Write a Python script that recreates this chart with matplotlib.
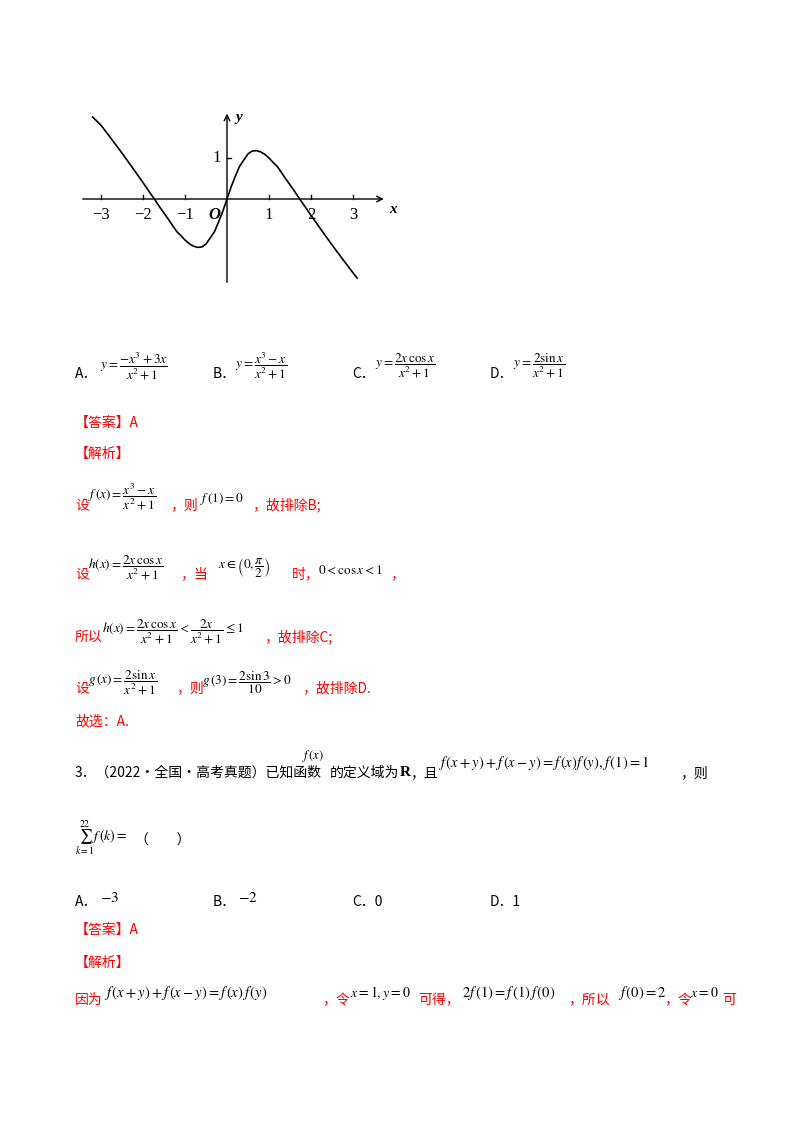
import matplotlib
matplotlib.use("Agg")
import matplotlib.pyplot as plt

plt.rcParams['font.family'] = ['Noto Sans CJK SC', 'DejaVu Sans']
plt.rcParams['mathtext.fontset'] = 'stix'

# curve points
xs = [-3.2, -3.0, -2.8, -2.5, -2.2, -2.0, -1.8, -1.73, -1.6, -1.4, -1.2, -1.1, -1.0, -0.9, -0.8,
      -0.7, -0.6, -0.5, -0.4, -0.3, -0.2, -0.1, 0.0,
      0.1, 0.2, 0.3, 0.4, 0.5, 0.6, 0.7, 0.8, 0.9, 1.0, 1.1, 1.2, 1.4, 1.6, 1.73, 1.8, 2.0,
      2.2, 2.5, 2.8, 3.0, 3.1]
ys = [2.0, 1.8, 1.53, 1.12, 0.69, 0.4, 0.10, 0.0, -0.2, -0.49, -0.79, -0.89, -1.0, -1.09, -1.15,
      -1.18, -1.17, -1.1, -0.95, -0.80, -0.56, -0.30, 0.0,
      0.30, 0.56, 0.80, 0.95, 1.1, 1.17, 1.18, 1.15, 1.09, 1.0, 0.89, 0.79, 0.49, 0.2, 0.0, -0.10, -0.4,
      -0.69, -1.12, -1.53, -1.8, -1.93]
xticks = [-3, -2, -1, 1, 2, 3]
yticks = [1]

W, H = 800, 1132
fig = plt.figure(figsize=(8, 11.32), dpi=100)

x0, x1, y0, y1 = -3.6, 3.8, -2.2, 2.2
left = 227 + x0 * 42
top = 199 - y1 * 41
ax = fig.add_axes([left / W, 1 - (top + (y1 - y0) * 41) / H, (x1 - x0) * 42 / W, (y1 - y0) * 41 / H])
ax.set_xlim(x0, x1); ax.set_ylim(y0, y1); ax.axis('off')
ax.plot(xs, ys, color='black', lw=1.2)
ax.annotate('', xy=(3.8, 0), xytext=(-3.5, 0), arrowprops=dict(arrowstyle='->', lw=1, color='black'))
ax.annotate('', xy=(0, 2.15), xytext=(0, -2.1), arrowprops=dict(arrowstyle='->', lw=1, color='black'))
SER = 'Liberation Serif'
for tk in xticks:
    ax.plot([tk, tk], [0, 0.1], color='black', lw=1)
    ax.text(tk, -0.2, ('−%d' % -tk) if tk < 0 else str(tk), ha='center', va='top', fontsize=12, family=SER)
for tk in yticks:
    ax.plot([0, 0.1], [tk, tk], color='black', lw=1)
    ax.text(-0.15, tk, str(tk), ha='right', va='center', fontsize=12, family=SER)
ax.text(-0.15, -0.2, 'O', ha='right', va='top', fontsize=12, style='italic', weight='bold', family=SER)
ax.text(3.85, -0.25, 'x', ha='left', va='center', fontsize=11, style='italic', weight='bold', family=SER)
ax.text(0.2, 2.0, 'y', ha='left', va='center', fontsize=11, style='italic', weight='bold', family=SER)

RED = '#ff0000'

def t(x, y, s, color='black', size=10, **kw):
    fig.text(x / W, 1 - y / H, s, color=color, fontsize=size, va='center', ha='left', **kw)

M = 9.5
t(75, 374, 'A．'); t(100, 366, r'$y=\dfrac{-x^3+3x}{x^2+1}$', size=M)
t(213, 374, 'B．'); t(235, 366, r'$y=\dfrac{x^3-x}{x^2+1}$', size=M)
t(352, 374, 'C．'); t(375, 366, r'$y=\dfrac{2x\,\cos x}{x^2+1}$', size=M)
t(490, 374, 'D．'); t(513, 366, r'$y=\dfrac{2\sin x}{x^2+1}$', size=M)

t(75, 423, '【答案】A', RED)
t(75, 454, '【解析】', RED)

t(75, 505, '设', RED); t(88, 497, r'$f\,(x)=\dfrac{x^3-x}{x^2+1}$', size=M)
t(170, 505, '，则', RED); t(200, 499, r'$f\,(1)=0$', size=M); t(252, 505, '，故排除B;', RED)

t(75, 574, '设', RED); t(88, 568, r'$h(x)=\dfrac{2x\,\cos x}{x^2+1}$', size=M)
t(180, 574, '，当', RED); t(218, 568, r'$x\in\left(0,\dfrac{\pi}{2}\right)$', size=M)
t(292, 574, '时，', RED); t(318, 570, r'$0<\cos x<1$', size=M); t(390, 574, '，', RED)

t(75, 637, '所以', RED); t(102, 632, r'$h(x)=\dfrac{2x\,\cos x}{x^2+1}<\dfrac{2x}{x^2+1}\leq 1$', size=M)
t(264, 637, '，故排除C;', RED)

t(75, 688, '设', RED); t(88, 683, r'$g\,(x)=\dfrac{2\sin x}{x^2+1}$', size=M)
t(176, 688, '，则', RED); t(202, 683, r'$g\,(3)=\dfrac{2\sin 3}{10}>0$', size=M)
t(302, 688, '，故排除D.', RED)
t(75, 721, '故选：A.', RED)

t(75, 773, '3．（2022·全国·高考真题）已知函数')
t(302, 756, r'$f\,(x)$', size=9)
t(330, 773, '的定义域为'); t(400, 773, 'R', weight='bold', family=SER, size=11); t(410, 773, '，且')
t(438, 763, r'$f\,(x+y)+f\,(x-y)=f\,(x)f\,(y),f\,(1)=1$', size=10.5); t(680, 773, '，则')

t(75, 838, r'$\sum_{k=1}^{22}f\,(k)=$', size=10); t(135, 841, '（　　）')

t(75, 902, 'A．'); t(100, 898, r'$-3$', size=11)
t(213, 902, 'B．'); t(238, 898, r'$-2$', size=11)
t(352, 902, 'C．0'); t(490, 902, 'D．1')

t(75, 930, '【答案】A', RED)
t(75, 963, '【解析】', RED)
t(75, 1000, '因为', RED); t(104, 993, r'$f\,(x+y)+f\,(x-y)=f\,(x)\,f\,(y)$', size=10.5)
t(322, 1000, '，令', RED); t(350, 993, r'$x=1,y=0$', size=10); t(418, 1000, '可得，', RED)
t(462, 993, r'$2f\,(1)=f\,(1)\,f\,(0)$', size=10.5); t(568, 1000, '，所以', RED)
t(618, 993, r'$f\,(0)=2$', size=10.5); t(664, 1000, '，令', RED); t(690, 993, r'$x=0$', size=10)
t(722, 1000, '可', RED)

fig.savefig('out.png', dpi=100, facecolor='white')
